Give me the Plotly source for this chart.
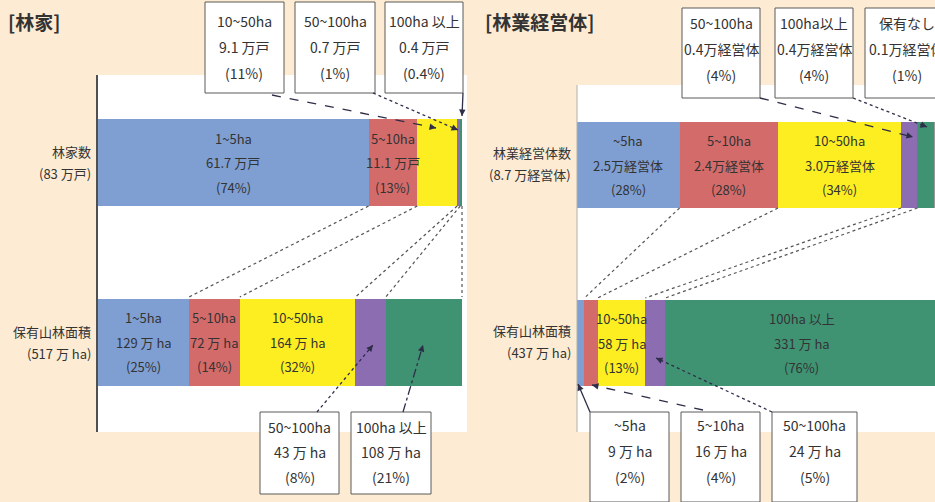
import plotly.graph_objects as go

W, H = 935, 502

# ---- data -------------------------------------------------------------
left_rows = ["林家数", "保有山林面積"]
left_row_labels = [["林家数", "(83 万戸)"], ["保有山林面積", "(517 万 ha)"]]
left_classes = ["1~5ha", "5~10ha", "10~50ha", "50~100ha", "100ha 以上"]
households = [61.7, 11.1, 9.1, 0.7, 0.4]            # 万戸
households_pct = ["74%", "13%", "11%", "1%", "0.4%"]
left_area = [129, 72, 164, 43, 108]                 # 万 ha
left_area_pct = ["25%", "14%", "32%", "8%", "21%"]

right_rows = ["林業経営体数", "保有山林面積"]
right_row_labels = [["林業経営体数", "(8.7 万経営体)"], ["保有山林面積", "(437 万 ha)"]]
right_classes = ["~5ha", "5~10ha", "10~50ha", "50~100ha", "100ha以上", "保有なし"]
entities = [2.5, 2.4, 3.0, 0.4, 0.4, 0.1]           # 万経営体
entities_pct = ["28%", "28%", "34%", "4%", "4%", "1%"]
right_area = [9, 16, 58, 24, 331]                   # 万 ha
right_area_pct = ["2%", "4%", "13%", "5%", "76%"]

colors = ["#7f9fd3", "#d46b6b", "#fcee21", "#8c6db2", "#3f9373", "#9a9a9a"]

BG = "#fdebd3"
TXT = "#333333"
LINE = "#2e2e48"
FONT = "Noto Sans CJK JP"


def share(vals):
    s = sum(vals)
    return [v / s * 100 for v in vals]


def cum_mid(vals):
    sh = share(vals)
    out, c = [], 0
    for v in sh:
        out.append(c + v / 2)
        c += v
    return out


def cum_edges(vals):
    sh = share(vals)
    out, c = [], 0
    for v in sh:
        c += v
        out.append(c)
    return out


def px(x):
    return x / W


def py(y):
    return 1 - y / H


sh_house = share(households)
sh_larea = share(left_area)
sh_ent = share(entities)
sh_rarea = share(right_area)

fig = go.Figure()

# ---- stacked bars -----------------------------------------------------
BAR_W = 0.486
for i, cls in enumerate(left_classes):
    fig.add_trace(go.Bar(
        y=left_rows, x=[sh_house[i], sh_larea[i]], orientation="h",
        marker=dict(color=colors[i], line=dict(width=0)), width=BAR_W,
        xaxis="x", yaxis="y", name=cls, showlegend=False, hoverinfo="skip"))

for i, cls in enumerate(right_classes):
    if i < len(right_area):
        ys, xs = right_rows, [sh_ent[i], sh_rarea[i]]
    else:
        ys, xs = [right_rows[0]], [sh_ent[i]]
    fig.add_trace(go.Bar(
        y=ys, x=xs, orientation="h",
        marker=dict(color=colors[i], line=dict(width=0)), width=BAR_W,
        xaxis="x2", yaxis="y2", name=cls, showlegend=False, hoverinfo="skip"))

shapes = []
annotations = []

# ---- panel backgrounds and axis lines ---------------------------------
shapes.append(dict(type="rect", xref="paper", yref="paper", layer="below",
                   x0=px(97), x1=px(467), y0=py(432), y1=py(75),
                   fillcolor="white", line=dict(width=0)))
shapes.append(dict(type="rect", xref="paper", yref="paper", layer="below",
                   x0=px(577), x1=px(935), y0=py(432), y1=py(85),
                   fillcolor="white", line=dict(width=0)))
shapes.append(dict(type="line", xref="paper", yref="paper", layer="above",
                   x0=px(97), x1=px(97), y0=py(432), y1=py(75),
                   line=dict(color="#505050", width=2)))
shapes.append(dict(type="line", xref="paper", yref="paper", layer="above",
                   x0=px(577), x1=px(577), y0=py(432), y1=py(85),
                   line=dict(color="#b0b0b0", width=1)))


def text_lines(x, y, lines, xref, yref, size, spacing, xanchor="center", yshift0=0):
    n = len(lines)
    for k, t in enumerate(lines):
        annotations.append(dict(
            x=x, y=y, xref=xref, yref=yref, text=t, showarrow=False,
            xanchor=xanchor, yanchor="middle",
            yshift=yshift0 + ((n - 1) / 2 - k) * spacing,
            font=dict(family=FONT, size=size, color=TXT)))


# ---- labels inside the bars -------------------------------------------
def bar_labels(vals, pcts, classes, unit_fmt, row, xref, yref, which):
    mids = cum_mid(vals)
    for i in which:
        text_lines(mids[i], row, [classes[i], unit_fmt(vals[i]), f"({pcts[i]})"],
                   xref, yref, 13, 24.5)


bar_labels(households, households_pct, left_classes, lambda v: f"{v} 万戸",
           left_rows[0], "x", "y", [0, 1])
bar_labels(left_area, left_area_pct, left_classes, lambda v: f"{v} 万 ha",
           left_rows[1], "x", "y", [0, 1, 2])
bar_labels(entities, entities_pct, right_classes, lambda v: f"{v:.1f}万経営体",
           right_rows[0], "x2", "y2", [0, 1, 2])
bar_labels(right_area, right_area_pct,
           ["~5ha", "5~10ha", "10~50ha", "50~100ha", "100ha 以上"],
           lambda v: f"{v} 万 ha", right_rows[1], "x2", "y2", [2, 4])

# ---- row labels -------------------------------------------------------
for r, lines in zip(left_rows, left_row_labels):
    text_lines(px(93), r, lines, "paper", "y", 13, 22, xanchor="right")
for r, lines in zip(right_rows, right_row_labels):
    text_lines(px(573), r, lines, "paper", "y2", 13, 22, xanchor="right", yshift0=2)

# ---- panel titles -----------------------------------------------------
annotations.append(dict(x=px(6), y=py(22), xref="paper", yref="paper", text="[林家]",
                        showarrow=False, xanchor="left", yanchor="middle",
                        font=dict(family=FONT, size=19, color="#333", weight=600)))
annotations.append(dict(x=px(483), y=py(22), xref="paper", yref="paper", text="[林業経営体]",
                        showarrow=False, xanchor="left", yanchor="middle",
                        font=dict(family=FONT, size=19, color="#333", weight=600)))


# ---- callout boxes ----------------------------------------------------
def callout(x0, x1, y0, y1, lines, line_ys):
    shapes.append(dict(type="rect", xref="paper", yref="paper", layer="above",
                       x0=px(x0), x1=px(x1), y0=py(y1), y1=py(y0),
                       fillcolor="white", line=dict(color="#5a5a5a", width=1)))
    for t, yy in zip(lines, line_ys):
        annotations.append(dict(x=px((x0 + x1) / 2), y=py(yy), xref="paper", yref="paper",
                                text=t, showarrow=False, xanchor="center", yanchor="middle",
                                font=dict(family=FONT, size=14, color=TXT)))


top_left_boxes = [(205, 284), (295, 375), (385, 463)]
for (x0, x1), i in zip(top_left_boxes, [2, 3, 4]):
    callout(x0, x1, 2, 93, [left_classes[i], f"{households[i]} 万戸", f"({households_pct[i]})"],
            [21, 47, 73])

bottom_left_boxes = [(260, 339), (351, 431)]
for (x0, x1), i in zip(bottom_left_boxes, [3, 4]):
    callout(x0, x1, 412, 494, [left_classes[i], f"{left_area[i]} 万 ha", f"({left_area_pct[i]})"],
            [427, 452, 477])

top_right_boxes = [(682, 760), (775, 853), (865, 948)]
for (x0, x1), i in zip(top_right_boxes, [3, 4, 5]):
    callout(x0, x1, 8, 98, [right_classes[i], f"{entities[i]:.1f}万経営体", f"({entities_pct[i]})"],
            [23, 49, 75])

bottom_right_boxes = [(590, 669), (681, 760), (772, 857)]
for (x0, x1), i in zip(bottom_right_boxes, [0, 1, 3]):
    callout(x0, x1, 412, 502, [right_classes[i], f"{right_area[i]} 万 ha", f"({right_area_pct[i]})"],
            [425, 451, 477])

# ---- dotted connectors between the two bars of each panel ------------
for a, b in zip(cum_edges(households), cum_edges(left_area)):
    shapes.append(dict(type="line", xref="x", yref="paper", layer="above",
                       x0=a, x1=b, y0=py(206), y1=py(297),
                       line=dict(color="#555", width=1.2, dash="dot")))
for a, b in list(zip(cum_edges(entities), cum_edges(right_area)))[:4]:
    shapes.append(dict(type="line", xref="x2", yref="paper", layer="above",
                       x0=a, x1=b, y0=py(208), y1=py(298),
                       line=dict(color="#555", width=1.2, dash="dot")))


# ---- leader lines with arrowheads -------------------------------------
def leader(sx, sy, tx, ty, dash):
    shapes.append(dict(type="line", xref="paper", yref="paper", layer="above",
                       x0=px(sx), y0=py(sy), x1=px(tx), y1=py(ty),
                       line=dict(color=LINE, width=1.3, dash=dash)))
    dx, dy = sx - tx, sy - ty
    d = (dx * dx + dy * dy) ** 0.5
    L = 7
    annotations.append(dict(x=px(tx), y=py(ty), xref="paper", yref="paper", text="",
                            showarrow=True, arrowhead=2, arrowsize=1, arrowwidth=1.3,
                            arrowcolor=LINE, standoff=0,
                            ax=dx / d * L, ay=dy / d * L))


leader(272, 95, 436, 128, "dash")
leader(373, 93, 458, 130, "dot")
leader(463, 93, 462, 116, "solid")
leader(317, 412, 373, 345, "dot")
leader(403, 412, 423, 345, "dashdot")

leader(760, 98, 913, 137, "dash")
leader(853, 98, 927, 127, "dot")
leader(590, 412, 578, 384, "solid")
leader(703, 410, 592, 385, "dash")
leader(772, 412, 656, 358, "dot")

# ---- layout -----------------------------------------------------------
fig.update_layout(
    width=W, height=H,
    margin=dict(l=0, r=0, t=0, b=0),
    paper_bgcolor=BG, plot_bgcolor="rgba(0,0,0,0)",
    barmode="stack", bargap=0,
    shapes=shapes, annotations=annotations,
    xaxis=dict(domain=[px(98), px(466)], range=[0, 100 * 368 / 364], visible=False,
               fixedrange=True, anchor="y"),
    yaxis=dict(domain=[py(432), py(73)], range=[1.5, -0.5], type="category",
               categoryorder="array", categoryarray=left_rows, visible=False,
               fixedrange=True, anchor="x"),
    xaxis2=dict(domain=[px(577), 1], range=[0, 358 / 3.61], visible=False,
                fixedrange=True, anchor="y2"),
    yaxis2=dict(domain=[py(432), py(76)], range=[1.5, -0.5], type="category",
                categoryorder="array", categoryarray=right_rows, visible=False,
                fixedrange=True, anchor="x2"),
)

fig.write_html("out.html")
